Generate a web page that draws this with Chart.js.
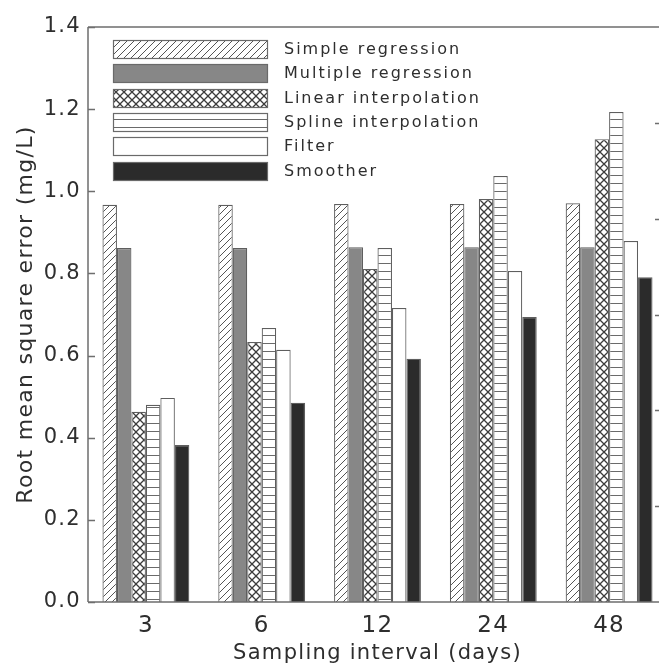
<!DOCTYPE html>
<html>
<head>
<meta charset="utf-8">
<script src="https://cdn.jsdelivr.net/npm/chart.js@4/dist/chart.umd.min.js"></script>
<style>
  html, body { margin: 0; padding: 0; background: #fff; overflow: hidden; }
  #wrap { width: 659px; height: 668px; overflow: hidden; position: relative; }
  canvas { display: block; }
</style>
</head>
<body>
<div id="wrap"><canvas id="rmse" width="667" height="668"></canvas></div>
<script>
// sampling intervals (days)
var intervals = ['3', '6', '12', '24', '48'];
var methods = ['Simple regression', 'Multiple regression', 'Linear interpolation',
               'Spline interpolation', 'Filter', 'Smoother'];

// root mean square error (mg/L) per method
var simpleReg   = [0.967, 0.967, 0.969, 0.969, 0.971];
var multipleReg = [0.862, 0.862, 0.864, 0.864, 0.864];
var linearInt   = [0.463, 0.633, 0.811, 0.981, 1.127];
var splineInt   = [0.480, 0.667, 0.862, 1.037, 1.193];
var filterVals  = [0.497, 0.614, 0.716, 0.806, 0.879];
var smootherVals = [0.382, 0.485, 0.592, 0.694, 0.791];

var yTicks = [0, 0.2, 0.4, 0.6, 0.8, 1.0, 1.2, 1.4];
// the right edge carries its own tick marks (6 equal steps)
var rightTicks = [1, 2, 3, 4, 5];

var FONT = 'DejaVu Sans';
var INK = '#2e2e2e';
var EDGE = '#5e5e5e';

function tile(w, h, paint) {
  var c = document.createElement('canvas');
  c.width = w; c.height = h;
  var g = c.getContext('2d');
  g.fillStyle = '#fff';
  g.fillRect(0, 0, w, h);
  paint(g);
  return g.createPattern(c, 'repeat');
}

var diagFill = tile(7, 7, function (g) {
  g.strokeStyle = '#555';
  g.lineWidth = 1;
  g.beginPath();
  g.moveTo(0, 7); g.lineTo(7, 0);
  g.moveTo(-1, 1); g.lineTo(1, -1);
  g.moveTo(6, 8); g.lineTo(8, 6);
  g.stroke();
});

var crossFill = tile(8, 8, function (g) {
  g.strokeStyle = '#3c3c3c';
  g.lineWidth = 1.3;
  g.beginPath();
  g.moveTo(0, 0); g.lineTo(8, 8);
  g.moveTo(0, 8); g.lineTo(8, 0);
  g.stroke();
});

var stripeFill = tile(4, 8, function (g) {
  g.fillStyle = '#6a6a6a';
  g.fillRect(0, 7, 4, 1);
});

var fills = [diagFill, '#878787', crossFill, stripeFill, '#ffffff', '#2b2b2b'];
var series = [simpleReg, multipleReg, linearInt, splineInt, filterVals, smootherVals];

var datasets = series.map(function (vals, i) {
  return {
    label: methods[i],
    data: vals,
    backgroundColor: fills[i],
    borderColor: EDGE,
    borderWidth: 1.2,
    borderSkipped: 'bottom',
    categoryPercentage: 0.75,
    barPercentage: 1.0
  };
});

// spacing of the old typeset text
var spacing = {
  id: 'spacing',
  beforeLayout: function (chart) { chart.ctx.letterSpacing = '1.3px'; },
  beforeDraw: function (chart) { chart.ctx.letterSpacing = '1.3px'; }
};

// frame round the plot with inward ticks
var frame = {
  id: 'frame',
  afterDatasetsDraw: function (chart) {
    var a = chart.chartArea, ctx = chart.ctx, y = chart.scales.y, r = chart.scales.yRight;
    ctx.save();
    ctx.strokeStyle = '#6e6e6e';
    ctx.lineWidth = 1.5;
    ctx.beginPath();
    ctx.moveTo(a.left, a.top); ctx.lineTo(a.right, a.top);
    ctx.moveTo(a.left, a.top); ctx.lineTo(a.left, a.bottom);
    ctx.moveTo(a.left, a.bottom); ctx.lineTo(a.right, a.bottom);
    yTicks.forEach(function (v) {
      var py = Math.round(y.getPixelForValue(v)) + 0.5;
      ctx.moveTo(a.left, py); ctx.lineTo(a.left + 7, py);
    });
    rightTicks.forEach(function (v) {
      var py = Math.round(r.getPixelForValue(v)) + 0.5;
      ctx.moveTo(a.right - 12, py); ctx.lineTo(a.right, py);
    });
    ctx.stroke();
    ctx.restore();
  }
};

// legend drawn inside the plot, top left
var boxLegend = {
  id: 'boxLegend',
  afterDraw: function (chart) {
    var a = chart.chartArea, ctx = chart.ctx;
    var x0 = a.left + 25, y0 = a.top + 13, w = 154, h = 18, step = 24.3;
    ctx.save();
    ctx.letterSpacing = '2px';
    ctx.font = '16px "' + FONT + '"';
    ctx.textBaseline = 'middle';
    ctx.textAlign = 'left';
    chart.data.datasets.forEach(function (ds, i) {
      var ty = Math.round(y0 + i * step);
      ctx.fillStyle = ds.backgroundColor;
      ctx.fillRect(x0, ty, w, h);
      ctx.strokeStyle = '#6a6a6a';
      ctx.lineWidth = 1.2;
      ctx.strokeRect(x0 + 0.5, ty + 0.5, w, h);
      ctx.fillStyle = INK;
      ctx.fillText(ds.label, x0 + w + 17, ty + h / 2 + 1);
    });
    ctx.restore();
  }
};

new Chart(document.getElementById('rmse'), {
  type: 'bar',
  data: { labels: intervals, datasets: datasets },
  options: {
    responsive: false,
    devicePixelRatio: 1,
    animation: false,
    layout: { padding: { top: 27, right: 0, left: 0, bottom: 0 } },
    plugins: { legend: { display: false }, tooltip: { enabled: false } },
    scales: {
      x: {
        grid: { display: false, drawTicks: false },
        border: { display: false },
        ticks: { color: INK, font: { family: FONT, size: 23 }, padding: 10 },
        title: {
          display: true, text: 'Sampling interval (days)', color: INK,
          font: { family: FONT, size: 21 }, padding: { top: 0, bottom: 2 }
        },
        afterFit: function (s) { s.height = 66; }
      },
      y: {
        min: 0, max: 1.4,
        grid: { display: false, drawTicks: false },
        border: { display: false },
        ticks: {
          stepSize: 0.2, color: INK, padding: 7,
          font: { family: FONT, size: 21 },
          callback: function (v) { return Number(v).toFixed(1); }
        },
        title: {
          display: true, text: 'Root mean square error (mg/L)', color: INK,
          font: { family: FONT, size: 22 }, padding: { top: 13, bottom: 0 }
        },
        afterFit: function (s) { s.width = 88; }
      },
      yRight: {
        display: false,
        min: 0, max: 6
      }
    }
  },
  plugins: [spacing, frame, boxLegend]
});
</script>
</body>
</html>
